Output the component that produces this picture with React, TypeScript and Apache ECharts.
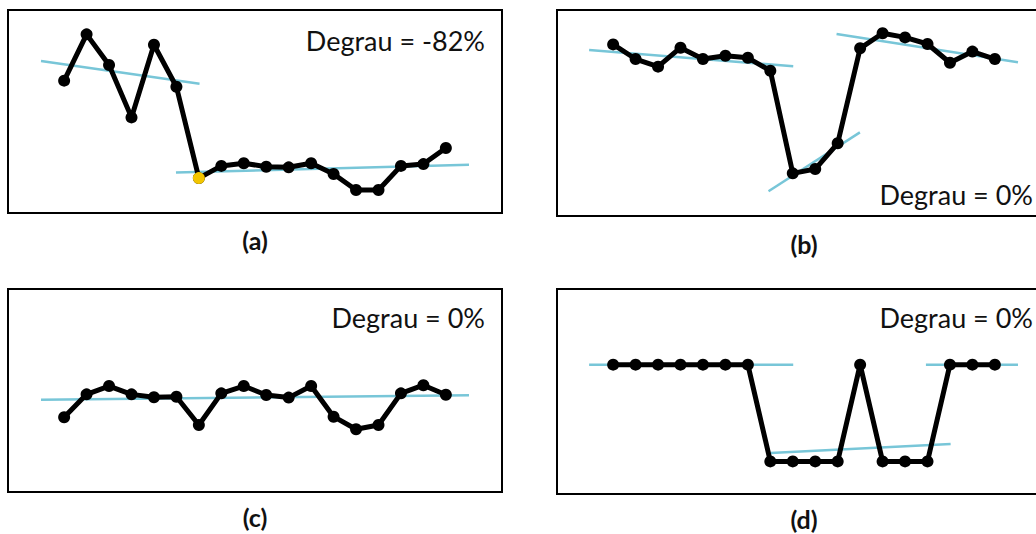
import React, { useEffect, useRef } from "react";
import * as echarts from "echarts";

// Sample positions along each series (index of the observation)
const steps = [0, 1, 2, 3, 4, 5, 6, 7, 8, 9, 10, 11, 12, 13, 14, 15, 16, 17];

// Series values for the four cases
const seriesA = [65.2, 88.0, 72.9, 47.1, 82.9, 62.2, 17.2, 23.2, 24.5, 22.8, 22.5, 24.5, 19.2, 11.3, 11.3, 23.2, 24.1, 32.0];
const seriesB = [83.3, 76.2, 72.5, 81.7, 76.2, 77.8, 76.8, 70.5, 20.7, 22.8, 35.3, 81.4, 88.7, 86.7, 83.5, 74.4, 79.8, 76.2];
const seriesC = [36.8, 48.1, 52.2, 48.1, 46.7, 46.9, 33.0, 48.6, 52.2, 47.8, 46.5, 52.2, 37.1, 30.9, 33.0, 48.6, 52.6, 47.9];
const seriesD = [63.1, 63.1, 63.1, 63.1, 63.1, 63.1, 63.1, 15.9, 15.9, 15.9, 15.9, 63.1, 15.9, 15.9, 15.9, 63.1, 63.1, 63.1];

// Fitted trend segments per case: [[xStart, yStart], [xEnd, yEnd]]
const trendsA = [
  [[-1.03, 74.9], [6.03, 63.7]],
  [[4.98, 19.9], [18.03, 23.8]],
];
const trendsB = [
  [[-1.07, 80.6], [8.02, 72.7]],
  [[6.92, 12.0], [10.99, 40.6]],
  [[9.95, 88.3], [18.03, 74.6]],
];
const trendsC = [[[-1.03, 45.5], [18.03, 47.6]]];
const trendsD = [
  [[-1.07, 63.1], [8.02, 63.1]],
  [[7.01, 20.0], [15.03, 24.4]],
  [[13.93, 63.1], [18.03, 63.1]],
];

// Detected step point (case a)
const stepIndexA = 6;

// Annotation texts
const stepLabels = ["Degrau = -82%", "Degrau = 0%", "Degrau = 0%", "Degrau = 0%"];
const panelCaptions = ["(a)", "(b)", "(c)", "(d)"];

const BLACK = "#000000";
const TREND = "#78c6d8";
const HIGHLIGHT = "#f2c500";
const FONT = "Lato, 'Open Sans', sans-serif";

export default function App() {
  const ref = useRef<HTMLDivElement>(null);

  useEffect(() => {
    if (!ref.current) return;
    const chart = echarts.init(ref.current, null, { renderer: "svg" });

    const panels = [
      { values: seriesA, trends: trendsA, grid: { left: 8, top: 10, width: 494, height: 203 } },
      { values: seriesB, trends: trendsB, grid: { left: 557, top: 10, width: 494, height: 206 } },
      { values: seriesC, trends: trendsC, grid: { left: 8, top: 289, width: 494, height: 203 } },
      { values: seriesD, trends: trendsD, grid: { left: 557, top: 289, width: 494, height: 205 } },
    ];

    const grid = panels.map((p) => ({
      ...p.grid,
      show: true,
      borderColor: BLACK,
      borderWidth: 2,
      backgroundColor: "transparent",
      outerBoundsMode: "none",
    }));

    const xAxis = panels.map((_, i) => ({
      type: "value" as const,
      gridIndex: i,
      min: -2.5,
      max: 19.5,
      show: false,
    }));
    const yAxis = panels.map((_, i) => ({
      type: "value" as const,
      gridIndex: i,
      min: 0,
      max: 100,
      show: false,
    }));

    const series: any[] = [];
    panels.forEach((p, i) => {
      p.trends.forEach((seg) => {
        series.push({
          type: "line",
          xAxisIndex: i,
          yAxisIndex: i,
          data: seg,
          showSymbol: false,
          symbol: "none",
          lineStyle: { color: TREND, width: 2.5 },
          z: 2,
          silent: true,
        });
      });
      series.push({
        type: "line",
        xAxisIndex: i,
        yAxisIndex: i,
        data: steps.map((s, k) => [s, p.values[k]]),
        symbol: "circle",
        symbolSize: 12,
        lineStyle: { color: BLACK, width: 5 },
        itemStyle: { color: BLACK },
        z: 3,
      });
    });
    series.push({
      type: "scatter",
      xAxisIndex: 0,
      yAxisIndex: 0,
      data: [[steps[stepIndexA], seriesA[stepIndexA]]],
      symbolSize: 12,
      itemStyle: { color: HIGHLIGHT, opacity: 1 },
      z: 4,
    });

    const labelPos = [
      { x: 485, y: 40 },
      { x: 1033, y: 194 },
      { x: 485, y: 317 },
      { x: 1033, y: 317 },
    ];
    const captionPos = [
      { x: 255, y: 240 },
      { x: 804, y: 244 },
      { x: 255, y: 517 },
      { x: 804, y: 519 },
    ];

    const graphic: any[] = [];
    stepLabels.forEach((t, i) => {
      graphic.push({
        type: "text",
        x: labelPos[i].x,
        y: labelPos[i].y,
        style: {
          text: t,
          fill: "#111111",
          font: `400 27px ${FONT}`,
          textAlign: "right",
          textVerticalAlign: "middle",
        },
        z: 10,
      });
    });
    panelCaptions.forEach((t, i) => {
      graphic.push({
        type: "text",
        x: captionPos[i].x,
        y: captionPos[i].y,
        style: {
          text: t,
          fill: "#111111",
          font: `700 25px ${FONT}`,
          textAlign: "center",
          textVerticalAlign: "middle",
        },
        z: 10,
      });
    });

    chart.setOption({
      animation: false,
      backgroundColor: "#ffffff",
      grid,
      xAxis,
      yAxis,
      series,
      graphic,
    });

    return () => chart.dispose();
  }, []);

  return (
    <div style={{ position: "absolute", left: 0, top: 0, width: 1036, height: 534, overflow: "hidden" }}>
      <div ref={ref} style={{ width: 1070, height: 534 }} />
    </div>
  );
}
